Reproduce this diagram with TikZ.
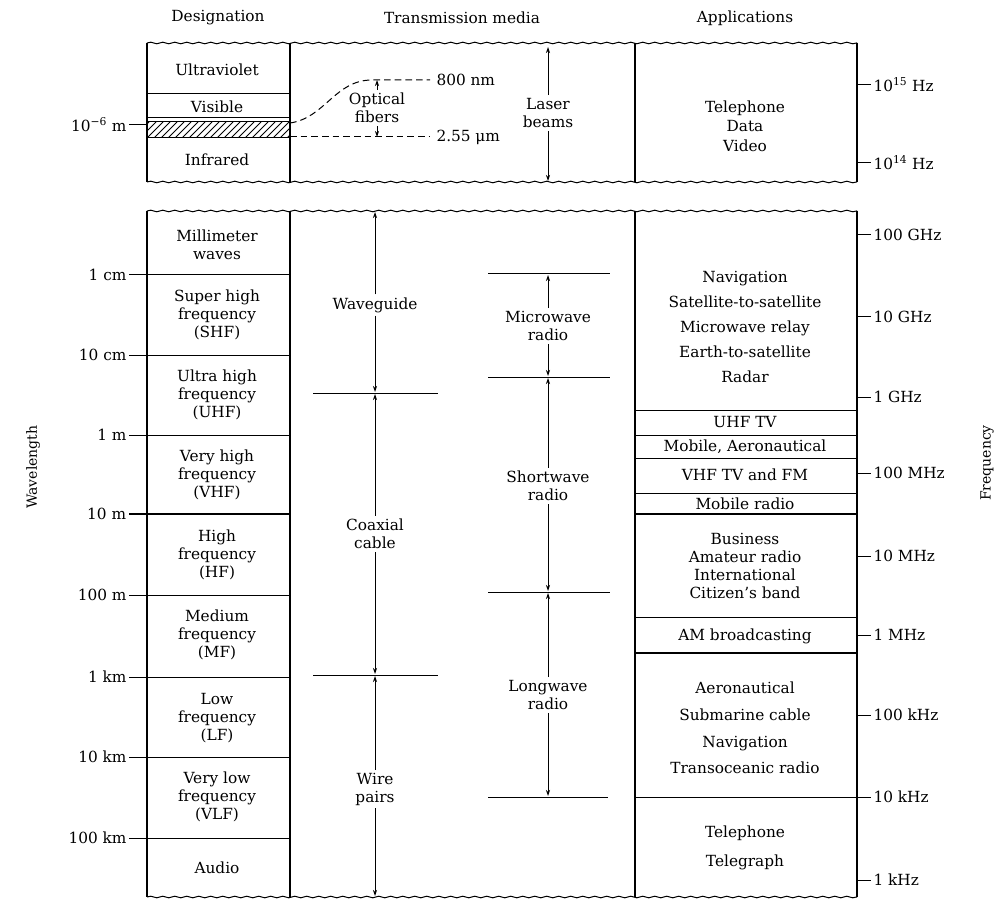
\documentclass[tikz,border=0pt]{standalone}
\usepackage{fontspec}
\setmainfont{DejaVu Serif}
\usetikzlibrary{arrows.meta,decorations.pathmorphing}

\tikzset{every picture/.style={line width=0.75pt}}
\tikzset{
  torn/.style={decorate,decoration={snake,segment length=9pt,amplitude=0.6pt}},
  rng/.style={-{Stealth[length=4.5pt,width=3pt]},line width=0.6pt},
  lbl/.style={inner sep=2pt,align=center,font=\fontsize{11.5}{13.5}\selectfont},
  scalelbl/.style={inner sep=1.5pt,font=\fontsize{11.5}{13.5}\selectfont},
  heavy/.style={line width=1.3pt},
  divider/.style={line width=1pt},
}

\begin{document}
\begin{tikzpicture}[x=0.75pt,y=0.75pt,yscale=-1,xscale=1]
\useasboundingbox (0,0) rectangle (995,905);

% column headings
\draw (218,18) node (desig) [lbl] {Designation};
\draw (462,18) node (media) [lbl] {Transmission media};
\draw (745,18) node (apps) [lbl] {Applications};

% upper block (optical range)
\draw [torn] (147,43) -- (857,43);
\draw [torn] (147,182) -- (857,182);
\draw [divider] (147,43) -- (147,182);
\draw [divider] (290,43) -- (290,182);
\draw [divider] (635,43) -- (635,182);
\draw [divider] (857,43) -- (857,182);
\draw (147,94) -- (290,94);
\draw (147,118) -- (290,118);
\draw (147,122) -- (290,122);
\draw (147,138) -- (290,138);
\begin{scope}
  \clip (147,122) rectangle (290,138);
  \foreach \x in {126,133,...,290} \draw [line width=0.6pt] (\x,138) -- ++(16,-16);
\end{scope}

\draw (217,70) node (uv) [lbl] {Ultraviolet};
\draw (217,107) node (vis) [lbl] {Visible};
\draw (217,160) node (ir) [lbl] {Infrared};
\draw (147,125) -- (129,125) node [anchor=east] (w6) [scalelbl] {10\textsuperscript{−6} m};

\draw [dashed,dash pattern=on 5pt off 3pt] (290,123) .. controls (325,118) and (335,80) .. (372,80) -- (430,80);
\draw [dashed,dash pattern=on 5pt off 3pt] (290,137) -- (430,137);
\draw (434,80) node [anchor=west] (nm800) [scalelbl] {800 nm};
\draw (434,137) node [anchor=west] (um255) [scalelbl] {2.55 μm};
\draw (377,108) node (optic) [lbl] {Optical\\fibers};
\coordinate (of top) at (377,80);
\coordinate (of bot) at (377,137);
\draw [rng] (optic) -- (of top);
\draw [rng] (optic) -- (of bot);

\draw (548,113) node (laser) [lbl] {Laser\\beams};
\coordinate (lb top) at (548,47);
\coordinate (lb bot) at (548,181);
\draw [rng] (laser) -- (lb top);
\draw [rng] (laser) -- (lb bot);

\draw (745,126) node (tdv) [lbl,font=\fontsize{11.5}{14.5}\selectfont] {Telephone\\Data\\Video};
\draw (857,85) -- (871,85) node [anchor=west] (f15) [scalelbl] {10\textsuperscript{15} Hz};
\draw (857,163) -- (871,163) node [anchor=west] (f14) [scalelbl] {10\textsuperscript{14} Hz};

% lower block (radio range)
\draw [torn] (147,211) -- (857,211);
\draw [torn] (147,897) -- (857,897);
\draw [divider] (147,211) -- (147,897);
\draw [divider] (290,211) -- (290,897);
\draw [divider] (635,211) -- (635,897);
\draw [divider] (857,211) -- (857,897);

% wavelength scale
\draw (290,275) -- (129,275) node [anchor=east] (w1cm) [scalelbl] {1 cm};
\draw (290,355) -- (129,355) node [anchor=east] (w10cm) [scalelbl] {10 cm};
\draw (290,435) -- (129,435) node [anchor=east] (w1m) [scalelbl] {1 m};
\draw [heavy] (290,514) -- (129,514) node [anchor=east] (w10m) [scalelbl] {10 m};
\draw (290,595) -- (129,595) node [anchor=east] (w100m) [scalelbl] {100 m};
\draw (290,677) -- (129,677) node [anchor=east] (w1km) [scalelbl] {1 km};
\draw (290,757) -- (129,757) node [anchor=east] (w10km) [scalelbl] {10 km};
\draw (290,838) -- (129,838) node [anchor=east] (w100km) [scalelbl] {100 km};
\draw (33,467) node (wlen) [rotate=90,inner sep=1pt,font=\fontsize{10.5}{12}\selectfont] {Wavelength};

\draw (217,245) node (mmw) [lbl] {Millimeter\\waves};
\draw (217,315) node (shf) [lbl] {Super high\\frequency\\(SHF)};
\draw (217,395) node (uhf) [lbl] {Ultra high\\frequency\\(UHF)};
\draw (217,475) node (vhf) [lbl] {Very high\\frequency\\(VHF)};
\draw (217,555) node (hf) [lbl] {High\\frequency\\(HF)};
\draw (217,635) node (mf) [lbl] {Medium\\frequency\\(MF)};
\draw (217,718) node (lf) [lbl] {Low\\frequency\\(LF)};
\draw (217,797) node (vlf) [lbl] {Very low\\frequency\\(VLF)};
\draw (217,868) node (audio) [lbl] {Audio};

% transmission media ranges
\draw (313,393) -- (438,393);
\draw (313,675) -- (438,675);
\draw (488,274) -- (610,274);
\draw (488,377) -- (610,377);
\draw (488,592) -- (610,592);
\draw (488,797) -- (608,797);

\draw (375,305) node (wguide) [lbl] {Waveguide};
\coordinate (wg top) at (375,212);
\coordinate (wg bot) at (375,392);
\draw [rng] (wguide) -- (wg top);
\draw [rng] (wguide) -- (wg bot);

\draw (375,534) node (coax) [lbl] {Coaxial\\cable};
\coordinate (cx top) at (375,394);
\coordinate (cx bot) at (375,674);
\draw [rng] (coax) -- (cx top);
\draw [rng] (coax) -- (cx bot);

\draw (375,789) node (wire) [lbl] {Wire\\pairs};
\coordinate (wp top) at (375,676);
\coordinate (wp bot) at (375,896);
\draw [rng] (wire) -- (wp top);
\draw [rng] (wire) -- (wp bot);

\draw (548,326) node (micro) [lbl] {Microwave\\radio};
\coordinate (mw top) at (548,275);
\coordinate (mw bot) at (548,376);
\draw [rng] (micro) -- (mw top);
\draw [rng] (micro) -- (mw bot);

\draw (548,486) node (short) [lbl] {Shortwave\\radio};
\coordinate (sw top) at (548,378);
\coordinate (sw bot) at (548,591);
\draw [rng] (short) -- (sw top);
\draw [rng] (short) -- (sw bot);

\draw (548,695) node (long) [lbl] {Longwave\\radio};
\coordinate (lw top) at (548,593);
\coordinate (lw bot) at (548,796);
\draw [rng] (long) -- (lw top);
\draw [rng] (long) -- (lw bot);

% applications
\draw (635,410) -- (857,410);
\draw (635,435) -- (857,435);
\draw (635,458) -- (857,458);
\draw (635,493) -- (857,493);
\draw [heavy] (635,514) -- (857,514);
\draw (635,617) -- (857,617);
\draw [heavy] (635,653) -- (857,653);
\draw (635,797) -- (857,797);

\draw (745,327) node (navi) [lbl,font=\fontsize{11.5}{18.8}\selectfont] {Navigation\\Satellite-to-satellite\\Microwave relay\\Earth-to-satellite\\Radar};
\draw (745,422) node (uhftv) [lbl] {UHF TV};
\draw (745,447) node (mobaero) [lbl] {Mobile, Aeronautical};
\draw (745,475) node (vhftv) [lbl] {VHF TV and FM};
\draw (745,504) node (mobrad) [lbl] {Mobile radio};
\draw (745,566) node (busi) [lbl] {Business\\Amateur radio\\International\\Citizen’s band};
\draw (745,636) node (ambc) [lbl] {AM broadcasting};
\draw (745,728) node (aero) [lbl,font=\fontsize{11.5}{20}\selectfont] {Aeronautical\\Submarine cable\\Navigation\\Transoceanic radio};
\draw (745,848) node (teleph) [lbl,font=\fontsize{11.5}{21.5}\selectfont] {Telephone\\Telegraph};

% frequency scale
\draw (857,235) -- (871,235) node [anchor=west] (f100g) [scalelbl] {100 GHz};
\draw (857,317) -- (871,317) node [anchor=west] (f10g) [scalelbl] {10 GHz};
\draw (857,397) -- (871,397) node [anchor=west] (f1g) [scalelbl] {1 GHz};
\draw (857,473) -- (871,473) node [anchor=west] (f100m) [scalelbl] {100 MHz};
\draw (857,556) -- (871,556) node [anchor=west] (f10m) [scalelbl] {10 MHz};
\draw (857,635) -- (871,635) node [anchor=west] (f1m) [scalelbl] {1 MHz};
\draw (857,715) -- (871,715) node [anchor=west] (f100k) [scalelbl] {100 kHz};
\draw (857,797) -- (871,797) node [anchor=west] (f10k) [scalelbl] {10 kHz};
\draw (857,880) -- (871,880) node [anchor=west] (f1k) [scalelbl] {1 kHz};
\draw (987,463) node (freq) [rotate=90,inner sep=1pt,font=\fontsize{10.5}{12}\selectfont] {Frequency};

\end{tikzpicture}
\end{document}
